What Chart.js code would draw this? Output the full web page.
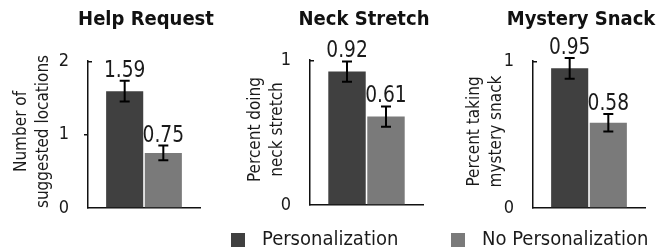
<!DOCTYPE html>
<html>
<head>
<meta charset="utf-8">
<script src="https://cdn.jsdelivr.net/npm/chart.js@4.4.1/dist/chart.umd.min.js"></script>
<style>
  body { margin: 0; background: #fff; }
  #wrap { position: relative; width: 670px; height: 251px; overflow: hidden; }
  canvas { position: absolute; top: 0; }
  .key { position: absolute; top: 228px; font: 20px "DejaVu Sans Condensed", "DejaVu Sans", sans-serif; line-height: 20px; color: #1a1a1a; white-space: nowrap; }
  .sw { position: absolute; top: 233px; width: 14px; height: 14px; }
</style>
</head>
<body>
<div id="wrap">
  <canvas id="c0" width="220" height="251" style="left:0px"></canvas>
  <canvas id="c1" width="220" height="251" style="left:220px"></canvas>
  <canvas id="c2" width="230" height="251" style="left:440px"></canvas>
  <div class="sw" style="left:231px;background:#404040"></div>
  <div class="key" style="left:262px">Personalization</div>
  <div class="sw" style="left:451px;background:#7a7a7a"></div>
  <div class="key" style="left:482px">No Personalization</div>
</div>
<script>
// données
const panels = ['Help Request', 'Neck Stretch', 'Mystery Snack'];
const series = ['Personalization', 'No Personalization'];
const personalization = [1.59, 0.92, 0.95];
const noPersonalization = [0.75, 0.61, 0.58];
const personalizationErr = [0.14, 0.07, 0.07];
const noPersonalizationErr = [0.10, 0.07, 0.06];
const yMax = [2, 1, 1];
const yTitles = [
  ['Number of', 'suggested locations'],
  ['Percent doing', 'neck stretch'],
  ['Percent taking', 'mystery snack']
];

const colors = ['#404040', '#7a7a7a'];
const font = '"DejaVu Sans Condensed", "DejaVu Sans", sans-serif';
const ink = '#1a1a1a';

// placement de chaque panneau (zone du graphe dans le canvas)
const areas = [
  { left: 88, right: 200, top: 61, bottom: 208, w: 220, yTitleX: 33, titleX: 146 },
  { left: 90, right: 203, top: 60, bottom: 205, w: 220, yTitleX: 47, titleX: 144 },
  { left: 93, right: 205, top: 61, bottom: 208, w: 230, yTitleX: 46, titleX: 141 }
];
const yAxisWidth = 40;

// titre, étiquette y, barres d'erreur et valeurs
const extras = {
  id: 'extras',
  afterDatasetsDraw(chart, args, opts) {
    const { ctx, chartArea: a, scales: { y } } = chart;
    const i = opts.panel;
    ctx.save();
    ctx.fillStyle = '#111';
    // titre
    ctx.font = 'bold 20px ' + font;
    ctx.textAlign = 'center';
    ctx.textBaseline = 'alphabetic';
    ctx.fillText(panels[i], areas[i].titleX, 25);
    // titre axe y
    ctx.fillStyle = ink;
    ctx.save();
    ctx.translate(areas[i].yTitleX, (a.top + a.bottom) / 2 - 3);
    ctx.rotate(-Math.PI / 2);
    ctx.font = '17px ' + font;
    ctx.textBaseline = 'middle';
    ctx.fillText(yTitles[i][0], 0, -11);
    ctx.fillText(yTitles[i][1], 0, 11);
    ctx.restore();
    // petit crochet en haut de l'axe
    ctx.strokeStyle = '#111';
    ctx.lineWidth = 1.5;
    ctx.beginPath();
    ctx.moveTo(a.left, a.top + 0.75);
    ctx.lineTo(a.left + 4, a.top + 0.75);
    ctx.stroke();
    // barres d'erreur + valeurs
    const errs = [personalizationErr[i], noPersonalizationErr[i]];
    chart.data.datasets.forEach((ds, d) => {
      const bar = chart.getDatasetMeta(d).data[0];
      const v = ds.data[0];
      const top = y.getPixelForValue(v + errs[d]);
      const bot = y.getPixelForValue(v - errs[d]);
      ctx.strokeStyle = '#000';
      ctx.lineWidth = 2;
      ctx.beginPath();
      ctx.moveTo(bar.x, top); ctx.lineTo(bar.x, bot);
      ctx.moveTo(bar.x - 5, top); ctx.lineTo(bar.x + 5, top);
      ctx.moveTo(bar.x - 5, bot); ctx.lineTo(bar.x + 5, bot);
      ctx.stroke();
      // chiffres un peu étroits comme sur l'original
      ctx.save();
      ctx.translate(bar.x, top - 4);
      ctx.scale(0.9, 1);
      ctx.font = '23px ' + font;
      ctx.textAlign = 'center';
      ctx.textBaseline = 'alphabetic';
      ctx.fillStyle = ink;
      ctx.fillText(v.toFixed(2), 0, 0);
      ctx.restore();
    });
    ctx.restore();
  }
};

panels.forEach((name, i) => {
  const ar = areas[i];
  const data = {
    labels: [name],
    datasets: [
      { label: series[0], data: [personalization[i]], backgroundColor: colors[0] },
      { label: series[1], data: [noPersonalization[i]], backgroundColor: colors[1] }
    ]
  };
  const max = yMax[i];
  new Chart(document.getElementById('c' + i), {
    type: 'bar',
    data,
    plugins: [extras],
    options: {
      responsive: false,
      animation: false,
      events: [],
      categoryPercentage: 0.69,
      barPercentage: 0.96,
      layout: {
        padding: { left: ar.left - yAxisWidth, right: ar.w - ar.right, top: ar.top, bottom: 251 - ar.bottom }
      },
      plugins: { legend: { display: false }, tooltip: { enabled: false }, extras: { panel: i } },
      scales: {
        x: {
          ticks: { display: false },
          grid: { display: false },
          border: { display: true, color: '#111', width: 1.5 },
          afterFit(s) { s.height = 0; s.paddingLeft = 0; s.paddingRight = 0; }
        },
        y: {
          min: 0, max: max,
          ticks: { stepSize: 1, padding: 15, color: ink, font: { family: font, size: 18 } },
          grid: {
            drawOnChartArea: false, drawTicks: true, tickLength: 4, lineWidth: 1.5,
            color: c => (c.tick && c.tick.value > 0 && c.tick.value < max) ? '#111' : 'rgba(0,0,0,0)'
          },
          border: { display: true, color: '#111', width: 1.5 },
          afterFit(s) { s.width = yAxisWidth; s.paddingTop = 0; s.paddingBottom = 0; }
        }
      }
    }
  });
});
</script>
</body>
</html>
